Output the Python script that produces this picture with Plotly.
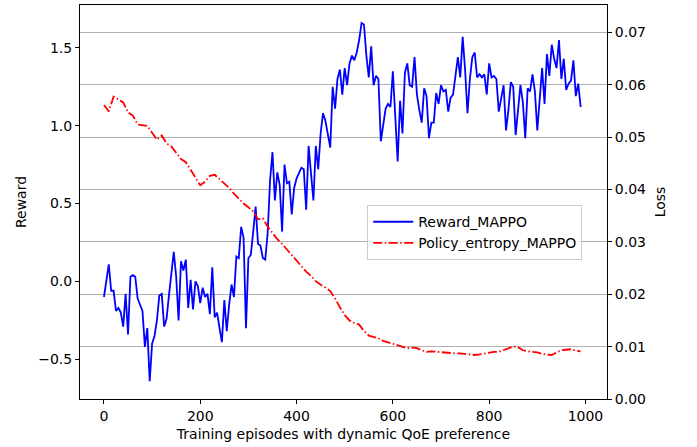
import plotly.graph_objects as go

reward_episodes = list(range(0, 995, 5))
reward = [
    -0.10, 0.02, 0.11, -0.06, -0.06, -0.19, -0.17, -0.20, -0.29, -0.08,
    -0.34, 0.03, 0.04, 0.03, -0.11, -0.15, -0.19, -0.42, -0.30, -0.64,
    -0.40, -0.35, -0.25, -0.09, -0.08, -0.29, -0.24, -0.09, 0.05, 0.19,
    0.03, -0.25, 0.13, 0.07, 0.14, -0.17, 0.01, -0.18, 0.00, -0.03,
    -0.14, -0.04, -0.10, -0.08, -0.21, 0.09, -0.23, -0.20, -0.30, -0.39,
    -0.12, -0.32, -0.15, -0.02, -0.10, 0.16, 0.15, 0.35, 0.28, -0.30,
    0.15, 0.17, 0.32, 0.48, 0.24, 0.23, 0.15, 0.14, 0.31, 0.65,
    0.83, 0.52, 0.70, 0.62, 0.32, 0.75, 0.63, 0.64, 0.43, 0.60,
    0.66, 0.70, 0.73, 0.72, 0.46, 0.87, 0.70, 0.52, 0.87, 0.72,
    0.95, 1.08, 1.03, 0.95, 0.86, 1.25, 1.11, 1.30, 1.36, 1.20,
    1.37, 1.26, 1.40, 1.45, 1.42, 1.47, 1.55, 1.66, 1.65, 1.45,
    1.31, 1.51, 1.26, 1.32, 1.30, 0.90, 1.00, 1.11, 1.14, 1.12,
    1.35, 1.05, 0.77, 1.16, 0.95, 1.34, 1.40, 1.26, 1.25, 1.44,
    1.20, 1.10, 1.02, 1.24, 1.19, 0.92, 1.02, 1.02, 1.21, 1.14,
    1.26, 1.22, 1.23, 1.09, 1.18, 1.20, 1.33, 1.44, 1.31, 1.57,
    1.36, 1.08, 1.30, 1.44, 1.47, 1.31, 1.33, 1.31, 1.33, 1.20,
    1.40, 1.31, 1.32, 1.30, 1.09, 1.18, 1.26, 0.97, 1.10, 1.28,
    1.25, 0.94, 1.10, 1.26, 1.15, 0.92, 1.24, 1.22, 1.33, 1.22,
    0.97, 1.18, 1.37, 1.14, 1.46, 1.32, 1.52, 1.43, 1.37, 1.55,
    1.30, 1.43, 1.23, 1.27, 1.29, 1.42, 1.19, 1.27, 1.12,
]

loss_episodes = list(range(0, 1000, 10))
loss = [
    0.0561, 0.0549, 0.0577, 0.0572, 0.0566, 0.0547, 0.0541, 0.0524, 0.0522, 0.0521,
    0.0508, 0.0495, 0.0503, 0.0488, 0.0482, 0.0471, 0.0458, 0.0452, 0.0437, 0.0424,
    0.0408, 0.0415, 0.0426, 0.0428, 0.0420, 0.0412, 0.0403, 0.0392, 0.0382, 0.0373,
    0.0366, 0.0358, 0.0343, 0.0345, 0.0329, 0.0316, 0.0305, 0.0296, 0.0285, 0.0274,
    0.0264, 0.0252, 0.0243, 0.0235, 0.0225, 0.0218, 0.0213, 0.0206, 0.0192, 0.0175,
    0.0160, 0.0150, 0.0145, 0.0142, 0.0130, 0.0121, 0.0118, 0.0116, 0.0111, 0.0108,
    0.0106, 0.0103, 0.0099, 0.0097, 0.0098, 0.0097, 0.0093, 0.0090, 0.0091, 0.0090,
    0.0089, 0.0088, 0.0088, 0.0087, 0.0087, 0.0086, 0.0086, 0.0084, 0.0085, 0.0087,
    0.0088, 0.0090, 0.0090, 0.0093, 0.0097, 0.0100, 0.0099, 0.0093, 0.0091, 0.0090,
    0.0089, 0.0086, 0.0085, 0.0084, 0.0089, 0.0093, 0.0094, 0.0095, 0.0092, 0.0091,
]

x_ticks = [0, 200, 400, 600, 800, 1000]
reward_ticks = [-0.5, 0.0, 0.5, 1.0, 1.5]
loss_ticks = [0.00, 0.01, 0.02, 0.03, 0.04, 0.05, 0.06, 0.07]

assert len(reward) == len(reward_episodes)
assert len(loss) == len(loss_episodes)

FONT = "DejaVu Sans"
FS = 14

fig = go.Figure()
fig.add_trace(go.Scatter(
    x=reward_episodes, y=reward, mode="lines", name="Reward_MAPPO",
    line=dict(color="#0000ff", width=1.8), yaxis="y",
))
fig.add_trace(go.Scatter(
    x=loss_episodes, y=loss, mode="lines", name="Policy_entropy_MAPPO",
    line=dict(color="#ff0000", width=1.8, dash="9px,2.5px,1.5px,2.5px"), yaxis="y2",
))

axis_common = dict(
    showline=True, linecolor="black", linewidth=1,
    ticks="outside", ticklen=4, tickwidth=1, tickcolor="black",
    tickfont=dict(family=FONT, size=FS, color="black"),
    zeroline=False,
)

fig.update_layout(
    width=697, height=447,
    margin=dict(l=80, r=90, t=5, b=48),
    paper_bgcolor="white", plot_bgcolor="white",
    font=dict(family=FONT, size=FS, color="black"),
    showlegend=True,
    legend=dict(
        x=0.545, y=0.492, xanchor="left", yanchor="top",
        bgcolor="rgba(255,255,255,0.8)", bordercolor="#cccccc", borderwidth=1,
        font=dict(family=FONT, size=FS, color="black"),
        itemwidth=40, tracegroupgap=0,
    ),
    xaxis=dict(
        **axis_common,
        range=[-49.75, 1044.75], tickvals=x_ticks,
        mirror=True, showgrid=False,
        title=dict(text="Training episodes with dynamic QoE preference",
                   font=dict(family=FONT, size=FS), standoff=6),
    ),
    yaxis=dict(
        **axis_common,
        range=[-0.755, 1.775], tickvals=reward_ticks, tickformat=".1f",
        showgrid=False,
        title=dict(text="Reward", font=dict(family=FONT, size=FS), standoff=8),
    ),
    yaxis2=dict(
        **axis_common,
        overlaying="y", side="right",
        range=[0, 0.0752], tickvals=loss_ticks, tickformat=".2f",
        showgrid=True, gridcolor="#b0b0b0", gridwidth=1,
        title=dict(text="Loss", font=dict(family=FONT, size=FS), standoff=10),
    ),
)

fig.write_html("out.html")
